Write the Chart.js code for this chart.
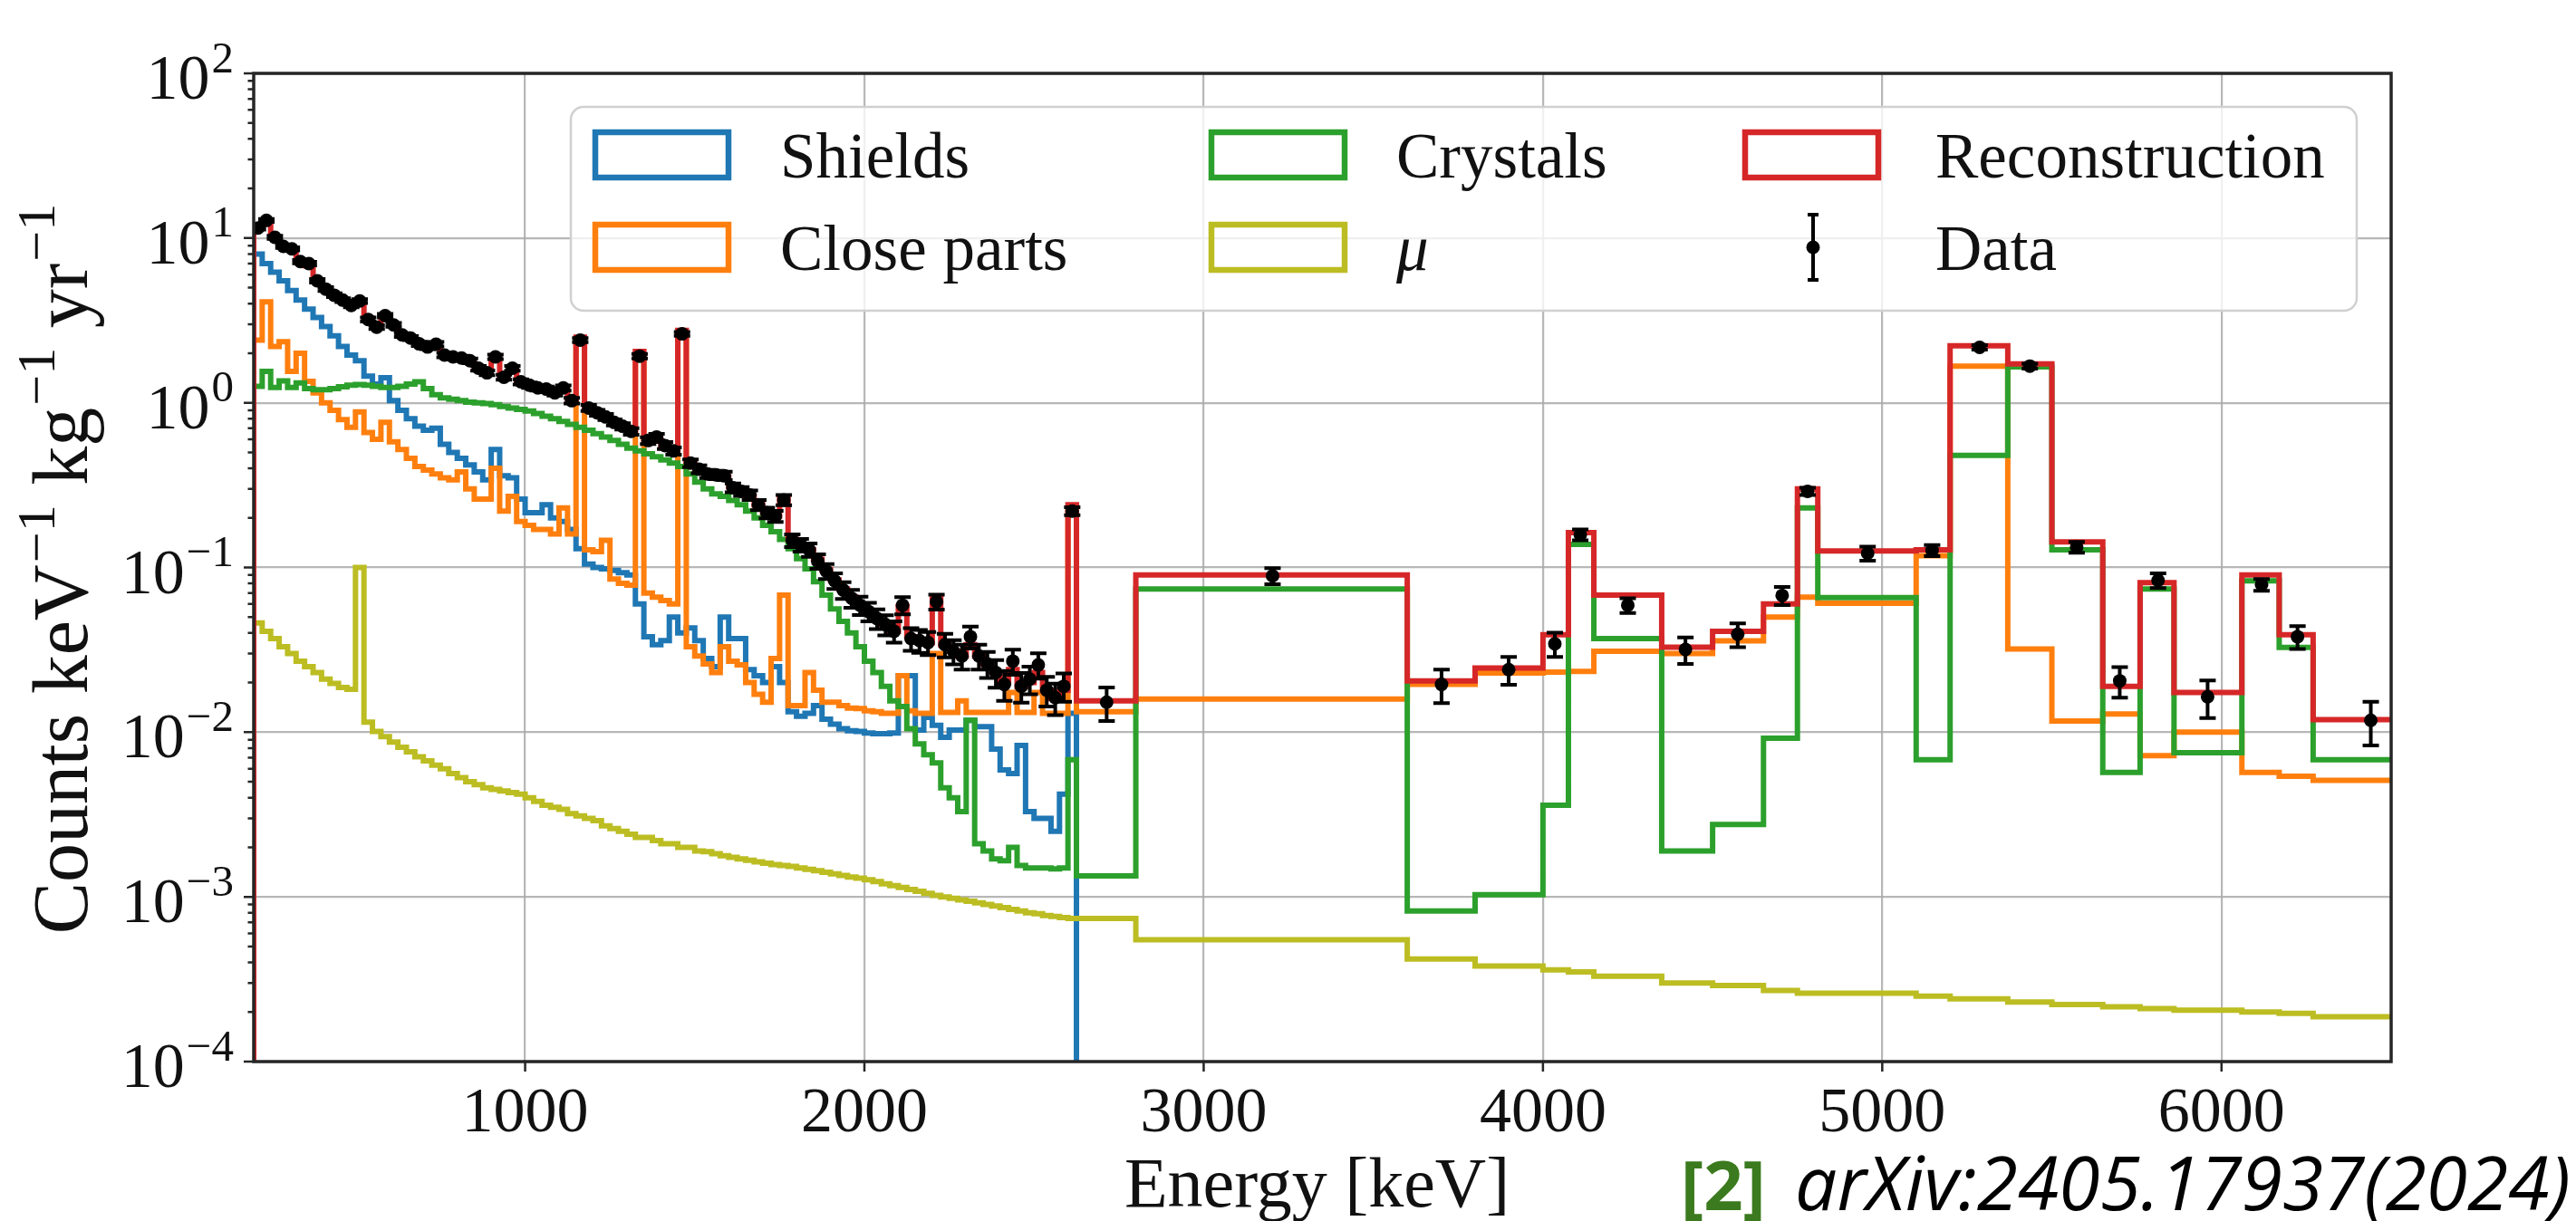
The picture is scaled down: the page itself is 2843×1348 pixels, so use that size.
<!DOCTYPE html>
<html>
<head>
<meta charset="utf-8">
<script src="https://cdn.jsdelivr.net/npm/chart.js@4.4.1/dist/chart.umd.min.js"></script>
<style>
html, body { margin: 0; padding: 0; background: #fff; }
#wrap { position: relative; width: 2843px; height: 1348px; }
canvas { display: block; }
</style>
</head>
<body>
<div id="wrap"><canvas id="spectrum" width="2843" height="1348"></canvas></div>
<script>
// binning: 25 keV bins from 200 keV up to 2625 keV, then wide bins
var fineStart = 200, fineWidth = 25;
var wideEdges = [2625, 2800, 3600, 3800, 4000, 4075, 4150, 4350, 4500, 4650, 4750, 4810, 5100, 5200, 5370, 5500, 5650, 5760, 5860, 6060, 6170, 6270, 6610];

var xTicks = [1000, 2000, 3000, 4000, 5000, 6000];
var yTicks = [1e-4, 1e-3, 1e-2, 1e-1, 1e0, 1e1, 1e2];
var yTickExp = ['\u22124', '\u22123', '\u22122', '\u22121', '0', '1', '2'];

// Shields
var shieldsFine = [
  8.0, 7.0, 6.2, 5.5, 4.8, 4.2, 3.7, 3.3, 2.9, 2.55,
  2.2, 1.95, 1.8, 1.45, 1.3, 1.42, 1.03, 0.9, 0.8, 0.72,
  0.68, 0.7, 0.56, 0.5, 0.46, 0.42, 0.38, 0.34, 0.52, 0.36,
  0.35, 0.26, 0.215, 0.215, 0.24, 0.2, 0.19, 0.17, 0.13, 0.105,
  0.1, 0.098, 0.096, 0.093, 0.09, 0.06, 0.038, 0.034, 0.036, 0.05,
  0.04, 0.043, 0.036, 0.028, 0.025, 0.05, 0.037, 0.037, 0.024, 0.022,
  0.02, 0.025, 0.02, 0.0133, 0.0125, 0.013, 0.0145, 0.012, 0.0112, 0.0105,
  0.0102, 0.0101, 0.0099, 0.0098, 0.0098, 0.0099, 0.022, 0.022, 0.0103, 0.0123,
  0.011, 0.0093, 0.0103, 0.0103, 0.0118, 0.0108, 0.0108, 0.0079, 0.0059, 0.0056,
  0.0083, 0.0033, 0.003, 0.003, 0.0025, 0.0042, 0.013
];

// Close parts
var closeFine = [
  2.4, 4.1, 2.2, 2.35, 1.55, 2.0, 1.35, 1.15, 1.0, 0.9,
  0.79, 0.71, 0.88, 0.66, 0.6, 0.76, 0.58, 0.52, 0.46, 0.41,
  0.39, 0.37, 0.35, 0.34, 0.38, 0.3, 0.26, 0.26, 0.4, 0.22,
  0.27, 0.19, 0.18, 0.17, 0.17, 0.16, 0.23, 0.16, 2.35, 0.128,
  0.125, 0.146, 0.085, 0.08, 0.078, 1.92, 0.07, 0.066, 0.063, 0.06,
  2.6, 0.033, 0.029, 0.026, 0.023, 0.033, 0.027, 0.0256, 0.02, 0.017,
  0.0152, 0.028, 0.068, 0.0145, 0.0145, 0.023, 0.018, 0.0152, 0.0152, 0.0145,
  0.014, 0.0139, 0.0135, 0.0133, 0.013, 0.013, 0.022, 0.0135, 0.013, 0.013,
  0.03, 0.0132, 0.0132, 0.0155, 0.0132, 0.0132, 0.0132, 0.0132, 0.0132, 0.0174,
  0.0132, 0.0132, 0.0174, 0.013, 0.013, 0.013, 0.22
];
var closeWide = [0.0133, 0.0159, 0.0195, 0.0229, 0.0232, 0.0234, 0.031, 0.030, 0.0359, 0.05, 0.066, 0.0607, 0.118, 1.67, 0.032, 0.0117, 0.0129, 0.0072, 0.0100, 0.0057, 0.0054, 0.0051];

// Crystals
var crystalsFine = [
  1.26, 1.55, 1.24, 1.36, 1.24, 1.32, 1.22, 1.2, 1.2, 1.22,
  1.25, 1.28, 1.29, 1.28, 1.26, 1.24, 1.24, 1.26, 1.3, 1.34,
  1.22, 1.12, 1.07, 1.05, 1.03, 1.01, 1.0, 0.99, 0.975, 0.95,
  0.93, 0.91, 0.89, 0.86, 0.83, 0.8, 0.77, 0.74, 0.71, 0.68,
  0.65, 0.62, 0.59, 0.56, 0.53, 0.51, 0.49, 0.47, 0.45, 0.43,
  0.41, 0.37, 0.33, 0.3, 0.28, 0.27, 0.255, 0.24, 0.22, 0.2,
  0.18, 0.165, 0.148, 0.13, 0.113, 0.098, 0.082, 0.068, 0.056, 0.047,
  0.04, 0.033, 0.027, 0.023, 0.019, 0.0155, 0.0143, 0.0105, 0.0085, 0.0073,
  0.0065, 0.0046, 0.004, 0.0033, 0.0118, 0.0021, 0.0019, 0.0017, 0.00166, 0.002,
  0.00155, 0.0015, 0.0015, 0.0015, 0.00148, 0.0015, 0.0068
];
var crystalsWide = [0.00134, 0.074, 0.00082, 0.00103, 0.0036, 0.138, 0.037, 0.0019, 0.00275, 0.0092, 0.23, 0.0656, 0.0068, 0.48, 1.65, 0.128, 0.0057, 0.074, 0.0075, 0.083, 0.0327, 0.0068];

// mu
var muonFine = [
  0.046, 0.041, 0.037, 0.033, 0.030, 0.027, 0.025, 0.023, 0.021, 0.0198,
  0.0187, 0.0182, 0.1, 0.0115, 0.0101, 0.0094, 0.0087, 0.0081, 0.0076, 0.0071,
  0.0067, 0.0063, 0.006, 0.0056, 0.0053, 0.005, 0.0048, 0.0046, 0.0045, 0.0044,
  0.0043, 0.0042, 0.004, 0.0038, 0.0036, 0.0035, 0.0034, 0.0032, 0.0031, 0.003,
  0.0029, 0.0027, 0.0026, 0.0025, 0.0024, 0.0023, 0.0023, 0.0022, 0.0021, 0.0021,
  0.002, 0.002, 0.0019, 0.00188, 0.00183, 0.00178, 0.00174, 0.0017, 0.00167, 0.00163,
  0.0016, 0.00157, 0.00155, 0.00153, 0.0015, 0.00147, 0.00144, 0.00141, 0.00138, 0.00135,
  0.00132, 0.0013, 0.00127, 0.00124, 0.0012, 0.00117, 0.00114, 0.00111, 0.00108, 0.00105,
  0.00102, 0.001, 0.00098, 0.00096, 0.00094, 0.00092, 0.0009, 0.00088, 0.00086, 0.00084,
  0.00082, 0.0008, 0.00079, 0.00077, 0.00076, 0.00075, 0.00074
];
var muonWide = [0.00074, 0.00055, 0.00042, 0.00038, 0.00036, 0.00035, 0.00033, 0.0003, 0.00029, 0.00027, 0.00026, 0.00026, 0.00025, 0.00024, 0.00023, 0.000222, 0.000215, 0.00021, 0.000205, 0.0002, 0.000196, 0.000187];

// Reconstruction
var reconFine = [
  11.5, 12.5, 10.1, 8.9, 8.5, 7.2, 6.8, 5.5, 4.9, 4.5,
  4.2, 3.9, 4.0, 3.25, 2.9, 3.3, 2.95, 2.6, 2.45, 2.3,
  2.2, 2.2, 1.97, 1.9, 1.86, 1.78, 1.62, 1.52, 1.85, 1.43,
  1.58, 1.34, 1.28, 1.23, 1.2, 1.15, 1.2, 1.05, 2.5, 0.93,
  0.87, 0.83, 0.77, 0.72, 0.67, 2.05, 0.6, 0.6, 0.55, 0.51,
  2.75, 0.44, 0.4, 0.375, 0.36, 0.355, 0.31, 0.295, 0.27, 0.24,
  0.215, 0.205, 0.27, 0.148, 0.138, 0.128, 0.112, 0.097, 0.084, 0.074,
  0.066, 0.059, 0.054, 0.049, 0.045, 0.041, 0.058, 0.038, 0.036, 0.035,
  0.065, 0.034, 0.031, 0.029, 0.034, 0.029, 0.026, 0.023, 0.02, 0.024,
  0.019, 0.02, 0.023, 0.018, 0.016, 0.018, 0.24
];
var reconWide = [0.0155, 0.09, 0.0205, 0.0245, 0.039, 0.163, 0.068, 0.0328, 0.041, 0.06, 0.30, 0.126, 0.128, 2.22, 1.72, 0.143, 0.019, 0.081, 0.0174, 0.09, 0.039, 0.0119];

// Data (points at bin centres for the 25 keV bins)
var dataFine = [
  11.5, 12.8, 10.1, 8.9, 8.6, 7.2, 7.0, 5.5, 4.9, 4.5,
  4.2, 3.9, 4.15, 3.2, 2.88, 3.38, 2.97, 2.58, 2.47, 2.28,
  2.18, 2.27, 1.95, 1.9, 1.87, 1.8, 1.62, 1.52, 1.9, 1.43,
  1.62, 1.34, 1.28, 1.23, 1.21, 1.15, 1.23, 1.03, 2.4, 0.93,
  0.87, 0.82, 0.76, 0.72, 0.67, 1.92, 0.59, 0.62, 0.55, 0.51,
  2.62, 0.43, 0.395, 0.37, 0.365, 0.36, 0.305, 0.29, 0.275, 0.24,
  0.215, 0.205, 0.257, 0.146, 0.137, 0.128, 0.109, 0.095, 0.083, 0.073,
  0.065, 0.059, 0.054, 0.049, 0.045, 0.041, 0.059, 0.037, 0.036, 0.035,
  0.062, 0.034, 0.031, 0.029, 0.038, 0.029, 0.026, 0.023, 0.0195, 0.027,
  0.019, 0.021, 0.0256, 0.018, 0.0162, 0.019, 0.22
];
var dataErrFine = [
  0.25, 0.27, 0.22, 0.2, 0.19, 0.17, 0.17, 0.14, 0.13, 0.12,
  0.11, 0.1, 0.11, 0.09, 0.08, 0.09, 0.08, 0.07, 0.07, 0.07,
  0.065, 0.07, 0.06, 0.06, 0.06, 0.06, 0.055, 0.05, 0.06, 0.05,
  0.055, 0.05, 0.05, 0.045, 0.045, 0.045, 0.045, 0.04, 0.07, 0.04,
  0.035, 0.035, 0.033, 0.032, 0.03, 0.06, 0.028, 0.028, 0.027, 0.026,
  0.07, 0.023, 0.022, 0.021, 0.021, 0.021, 0.019, 0.018, 0.018, 0.017,
  0.016, 0.016, 0.018, 0.013, 0.012, 0.012, 0.011, 0.01, 0.009, 0.0085,
  0.008, 0.0075, 0.007, 0.0067, 0.0063, 0.006, 0.007, 0.0058, 0.0057, 0.0056,
  0.0065, 0.0055, 0.0052, 0.005, 0.0058, 0.005, 0.0047, 0.0044, 0.004, 0.0047,
  0.0039, 0.004, 0.0045, 0.0037, 0.0035, 0.0037, 0.012
];
var dataWideE = [2714, 3203, 3701, 3899, 4035, 4110, 4250, 4420, 4574, 4705, 4780, 4957, 5147, 5287, 5435, 5573, 5700, 5813, 5959, 6118, 6224, 6440];
var dataWide = [0.0152, 0.089, 0.0195, 0.024, 0.0344, 0.158, 0.059, 0.0318, 0.0393, 0.0676, 0.29, 0.122, 0.127, 2.17, 1.67, 0.133, 0.0205, 0.0835, 0.0164, 0.0787, 0.038, 0.0118];
var dataErrWide = [0.0035, 0.01, 0.0045, 0.0046, 0.0058, 0.012, 0.006, 0.0058, 0.0065, 0.0085, 0.015, 0.012, 0.01, 0.07, 0.06, 0.01, 0.0043, 0.0085, 0.0042, 0.0065, 0.006, 0.0035];

var floorValue = 1e-7; // below the axis: empty bins

var C = {blue: '#1f77b4', orange: '#ff7f0e', green: '#2ca02c', red: '#d62728', olive: '#bcbd22'};
var serif = '"Liberation Serif", "DejaVu Serif", serif';

function histPoints(fine, wide, dropAtEnd) {
  var pts = [{x: fineStart, y: floorValue}];
  fine.forEach(function (v, i) { pts.push({x: fineStart + i * fineWidth, y: v}); });
  if (wide) wide.forEach(function (v, i) { pts.push({x: wideEdges[i], y: v}); });
  var lastX = wide ? wideEdges[wideEdges.length - 1] : fineStart + fine.length * fineWidth;
  var lastY = wide ? wide[wide.length - 1] : fine[fine.length - 1];
  pts.push({x: lastX, y: dropAtEnd ? floorValue : lastY});
  return pts;
}

var dataPoints = [];
dataFine.forEach(function (v, i) { dataPoints.push({x: fineStart + (i + 0.5) * fineWidth, y: v, e: dataErrFine[i]}); });
dataWide.forEach(function (v, i) { dataPoints.push({x: dataWideE[i], y: v, e: dataErrWide[i]}); });

function histSet(label, pts, color, order) {
  return {label: label, data: pts, borderColor: color, backgroundColor: color, borderWidth: 6,
    stepped: 'before', pointRadius: 0, fill: false, order: order, borderJoinStyle: 'miter'};
}

// text with superscript runs: runs = [[text, isSup], ...]
function runsWidth(ctx, runs, size, style) {
  var w = 0;
  runs.forEach(function (r) {
    ctx.font = (style || '') + ' ' + (r[1] ? size * 0.7 : size) + 'px ' + serif;
    w += ctx.measureText(r[0]).width + (r[1] ? 2 : 0);
  });
  return w;
}
function drawRuns(ctx, runs, x, y, size) {
  runs.forEach(function (r) {
    var s = r[1] ? size * 0.7 : size;
    ctx.font = s + 'px ' + serif;
    if (r[1]) x += 2;
    ctx.fillText(r[0], x, r[1] ? y - size * 0.42 : y);
    x += ctx.measureText(r[0]).width;
  });
}

function roundRectPath(ctx, x, y, w, h, r) {
  ctx.beginPath();
  ctx.moveTo(x + r, y);
  ctx.lineTo(x + w - r, y); ctx.arcTo(x + w, y, x + w, y + r, r);
  ctx.lineTo(x + w, y + h - r); ctx.arcTo(x + w, y + h, x + w - r, y + h, r);
  ctx.lineTo(x + r, y + h); ctx.arcTo(x, y + h, x, y + h - r, r);
  ctx.lineTo(x, y + r); ctx.arcTo(x, y, x + r, y, r);
  ctx.closePath();
}

var legendItems = [
  {label: 'Shields', color: C.blue, px: 654, tx: 861, row: 0},
  {label: 'Close parts', color: C.orange, px: 654, tx: 861, row: 1},
  {label: 'Crystals', color: C.green, px: 1334, tx: 1541, row: 0},
  {label: '\u03bc', color: C.olive, px: 1334, tx: 1541, row: 1, italic: true},
  {label: 'Reconstruction', color: C.red, px: 1923, tx: 2136, row: 0},
  {label: 'Data', color: '#000', px: 1923, tx: 2136, row: 1, marker: true}
];

var overlay = {
  id: 'overlay',
  afterDatasetsDraw: function (chart) {
    var ctx = chart.ctx, xs = chart.scales.x, ys = chart.scales.y, a = chart.chartArea;
    ctx.save();
    ctx.beginPath(); ctx.rect(a.left, a.top, a.right - a.left, a.bottom - a.top); ctx.clip();
    ctx.strokeStyle = '#000'; ctx.lineWidth = 4;
    dataPoints.forEach(function (p) {
      var x = xs.getPixelForValue(p.x);
      var y1 = ys.getPixelForValue(p.y - p.e), y2 = ys.getPixelForValue(p.y + p.e);
      ctx.beginPath();
      ctx.moveTo(x, y1); ctx.lineTo(x, y2);
      ctx.moveTo(x - 9, y1); ctx.lineTo(x + 9, y1);
      ctx.moveTo(x - 9, y2); ctx.lineTo(x + 9, y2);
      ctx.stroke();
    });
    ctx.restore();
  },
  afterDraw: function (chart) {
    var ctx = chart.ctx, xs = chart.scales.x, ys = chart.scales.y, a = chart.chartArea;
    ctx.save();
    // frame
    ctx.strokeStyle = '#262626'; ctx.lineWidth = 3.5;
    ctx.strokeRect(a.left, a.top, a.right - a.left, a.bottom - a.top);
    // ticks
    ctx.lineWidth = 2.5;
    ctx.beginPath();
    xTicks.forEach(function (v) { var x = xs.getPixelForValue(v); ctx.moveTo(x, a.bottom); ctx.lineTo(x, a.bottom + 11); });
    yTicks.forEach(function (v, k) {
      var y = ys.getPixelForValue(v); ctx.moveTo(a.left - 11, y); ctx.lineTo(a.left, y);
      if (k < yTicks.length - 1) {
        for (var m = 2; m <= 9; m++) { var ym = ys.getPixelForValue(v * m); ctx.moveTo(a.left - 6.5, ym); ctx.lineTo(a.left, ym); }
      }
    });
    ctx.stroke();
    // tick labels
    ctx.fillStyle = '#111';
    ctx.textBaseline = 'alphabetic';
    ctx.textAlign = 'center';
    ctx.font = '70px ' + serif;
    xTicks.forEach(function (v) { ctx.fillText(String(v), xs.getPixelForValue(v), a.bottom + 77); });
    ctx.textAlign = 'left';
    yTicks.forEach(function (v, k) {
      var runs = [['10', false], [yTickExp[k], true]];
      var w = runsWidth(ctx, runs, 70);
      drawRuns(ctx, runs, a.left - 22 - w, ys.getPixelForValue(v) + 28, 70);
    });
    // x title
    ctx.textAlign = 'left';
    var xt = [['Energy [keV]', false]];
    var xw = runsWidth(ctx, xt, 78);
    drawRuns(ctx, xt, (a.left + a.right) / 2 - xw / 2 - 6, 1332, 78);
    // y title
    var yt = [['Counts keV', false], ['\u22121', true], [' kg', false], ['\u22121', true], [' yr', false], ['\u22121', true]];
    var ySize = 84;
    var yw = runsWidth(ctx, yt, ySize);
    ySize = ySize * 807 / yw;
    yw = runsWidth(ctx, yt, ySize);
    ctx.save();
    ctx.translate(96, 628);
    ctx.rotate(-Math.PI / 2);
    drawRuns(ctx, yt, -yw / 2, 0, ySize);
    ctx.restore();
    // legend
    roundRectPath(ctx, 630, 118, 1971, 225, 14);
    ctx.fillStyle = 'rgba(255,255,255,0.8)'; ctx.fill();
    ctx.strokeStyle = '#d0d0d0'; ctx.lineWidth = 2.5; ctx.stroke();
    legendItems.forEach(function (it) {
      var top = it.row === 0 ? 146 : 248;
      if (it.marker) {
        var mx = it.px + 78, my = top + 25;
        ctx.strokeStyle = '#000'; ctx.lineWidth = 4;
        ctx.beginPath();
        ctx.moveTo(mx, my - 36); ctx.lineTo(mx, my + 36);
        ctx.moveTo(mx - 6, my - 36); ctx.lineTo(mx + 6, my - 36);
        ctx.moveTo(mx - 6, my + 36); ctx.lineTo(mx + 6, my + 36);
        ctx.stroke();
        ctx.fillStyle = '#000';
        ctx.beginPath(); ctx.arc(mx, my, 7.5, 0, Math.PI * 2); ctx.fill();
      } else {
        ctx.strokeStyle = it.color; ctx.lineWidth = 6.5;
        ctx.strokeRect(it.px + 3, top, 147, 50);
      }
      ctx.fillStyle = '#111';
      ctx.font = (it.italic ? 'italic ' : '') + '71px ' + serif;
      ctx.fillText(it.label, it.tx, top + 50);
    });
    // citation
    ctx.fillStyle = '#3b7a1e';
    ctx.font = 'bold 76px "Open Sans", "Noto Sans", sans-serif';
    ctx.fillText('[2]', 1855, 1336);
    ctx.fillStyle = '#000';
    var cite = 'arXiv:2405.17937(2024)';
    var cs = 76;
    ctx.font = 'italic ' + cs + 'px "Open Sans", "Noto Sans", sans-serif';
    cs = cs * 856 / ctx.measureText(cite).width;
    ctx.font = 'italic ' + cs + 'px "Open Sans", "Noto Sans", sans-serif';
    ctx.fillText(cite, 1981, 1336);
    ctx.restore();
  }
};

var gridStyle = {color: 'rgba(170,170,170,0.85)', lineWidth: 2.2, drawTicks: false};

new Chart(document.getElementById('spectrum'), {
  type: 'line',
  data: {
    datasets: [
      {label: 'Data', data: dataPoints, showLine: false, pointRadius: 7.5, pointHoverRadius: 7.5,
        pointBackgroundColor: '#000', pointBorderWidth: 0, borderColor: '#000', order: 0},
      histSet('Reconstruction', histPoints(reconFine, reconWide, false), C.red, 1),
      histSet('\u03bc', histPoints(muonFine, muonWide, false), C.olive, 2),
      histSet('Crystals', histPoints(crystalsFine, crystalsWide, false), C.green, 3),
      histSet('Close parts', histPoints(closeFine, closeWide, false), C.orange, 4),
      histSet('Shields', histPoints(shieldsFine, null, true), C.blue, 5)
    ]
  },
  options: {
    responsive: false,
    animation: false,
    events: [],
    layout: {padding: {left: 280, top: 81, right: 204, bottom: 176}, autoPadding: false},
    plugins: {legend: {display: false}, tooltip: {enabled: false}},
    scales: {
      x: {type: 'linear', min: 200, max: 6500, grid: gridStyle, border: {display: false},
        ticks: {display: false},
        afterBuildTicks: function (s) { s.ticks = xTicks.map(function (v) { return {value: v}; }); }},
      y: {type: 'logarithmic', min: 1e-4, max: 1e2, grid: gridStyle, border: {display: false},
        ticks: {display: false},
        afterBuildTicks: function (s) { s.ticks = yTicks.map(function (v) { return {value: v}; }); }}
    }
  },
  plugins: [overlay]
});
</script>
</body>
</html>
